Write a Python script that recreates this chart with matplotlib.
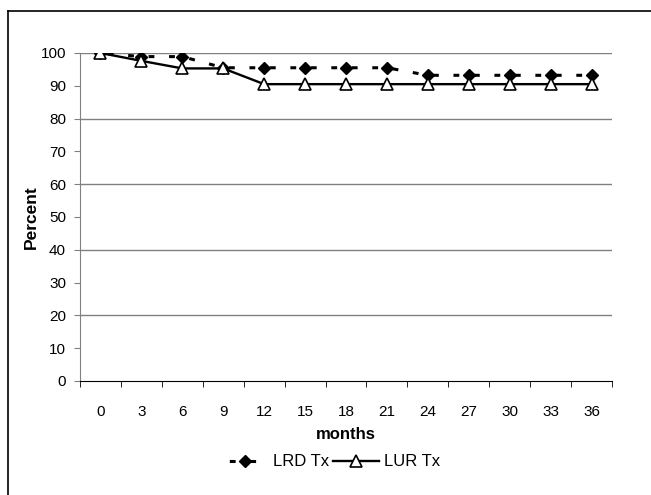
import matplotlib.pyplot as plt
from matplotlib.lines import Line2D

plt.rcParams['font.family'] = ['Liberation Sans', 'DejaVu Sans']

# data
months = ['0', '3', '6', '9', '12', '15', '18', '21', '24', '27', '30', '33', '36']
lrd_tx = [100, 98.9, 98.9, 95.5, 95.5, 95.5, 95.5, 95.5, 93.2, 93.2, 93.2, 93.2, 93.2]
lur_tx = [100, 97.6, 95.3, 95.3, 90.5, 90.5, 90.5, 90.5, 90.5, 90.5, 90.5, 90.5, 90.5]
y_ticks = list(range(0, 101, 10))
grid_vals = list(range(20, 101, 20))

W, H = 651, 495
fig = plt.figure(figsize=(W / 100, H / 100), dpi=100)
ax = fig.add_axes([80 / W, 1 - 381 / H, (612 - 80) / W, (381 - 53) / H])

x = list(range(len(months)))

for g in grid_vals:
    ax.axhline(g, color='#808080', lw=1, zorder=0)

ax.plot(x, lrd_tx, color='black', lw=2.2, linestyle=(4.3, (1.9, 4.8)),
        marker='D', markersize=6.5, markerfacecolor='black',
        markeredgecolor='black', label='LRD Tx', zorder=3)
ax.plot(x, lur_tx, color='black', lw=1.7, linestyle='-',
        marker='^', markersize=8, markerfacecolor='white',
        markeredgecolor='black', markeredgewidth=1.2, label='LUR Tx', zorder=4)

ax.set_xlim(-0.5, len(months) - 0.5)
ax.set_ylim(0, 100)
ax.set_yticks(y_ticks)
ax.set_xticks(x)
ax.set_xticklabels(months)
ax.set_xticks([i - 0.5 for i in range(len(months) + 1)], minor=True)
ax.tick_params(axis='x', which='major', length=0, pad=17, labelsize=11)
ax.tick_params(axis='x', which='minor', length=4, direction='out', color='black')
ax.tick_params(axis='y', length=4, direction='out', color='#808080', labelsize=11, pad=6)

for s in ['top', 'right']:
    ax.spines[s].set_visible(False)
ax.spines['left'].set_color('#808080')
ax.spines['bottom'].set_color('black')

ax.set_xlabel('months', fontsize=12, fontweight='bold', labelpad=6)
ax.set_ylabel('Percent', fontsize=12.5, fontweight='bold', labelpad=1)

fig.legend(loc='center', bbox_to_anchor=(331 / W, 1 - 462 / H), ncol=2,
           frameon=False, fontsize=12, handlelength=2.8, columnspacing=0.2,
           handletextpad=0.3)

# outer frame (only the left and top edges show)
fig.add_artist(Line2D([8 / W, 8 / W], [0, 1 - 11 / H], color='black', lw=1.2,
                      transform=fig.transFigure))
fig.add_artist(Line2D([8 / W, 1], [1 - 11 / H, 1 - 11 / H], color='black', lw=1.2,
                      transform=fig.transFigure))

fig.savefig('out.png', dpi=100)
